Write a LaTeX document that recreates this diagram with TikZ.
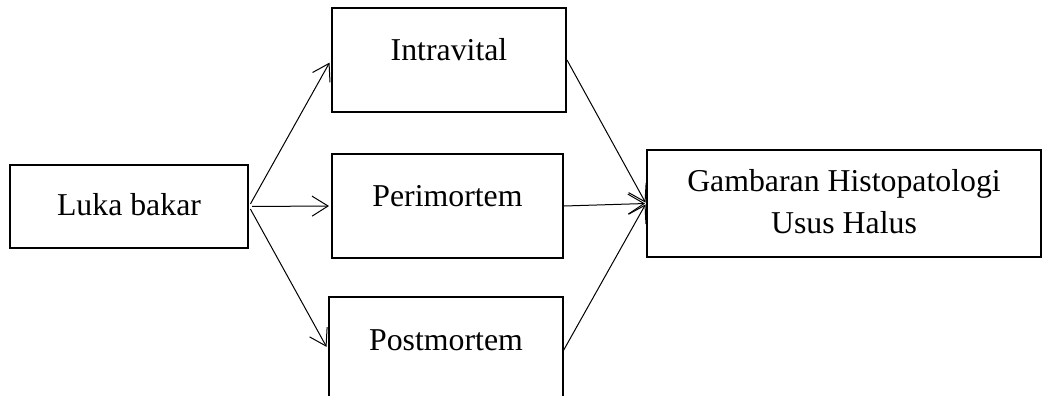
\documentclass[tikz,border=0pt]{standalone}
\usepackage{fontspec}
\setmainfont{Liberation Serif}
\usetikzlibrary{arrows.meta}
\begin{document}
\begin{tikzpicture}[x=0.5pt,y=-0.5pt,
  box/.style={draw=black,line width=1pt,rectangle,inner sep=0pt,anchor=base,
    font=\fontsize{15.9}{21}\selectfont},
  arr/.style={draw=black,line width=0.5pt,
    -{Straight Barb[length=8pt,width=10pt,line width=0.5pt]}},
  lbl/.style={inner sep=0pt,align=center,font=\fontsize{15.9}{21}\selectfont}]
\clip (0,0) rectangle (1044,396);
\fill[white] (0,0) rectangle (1044,396);
\node[box,minimum width=119pt,text height=25pt,text depth=16.5pt] (luka) at (129,215) {Luka bakar};
\node[box,minimum width=117pt,text height=26.5pt,text depth=25.5pt] (intra) at (449,61) {Intravital};
\node[box,minimum width=115.5pt,text height=26pt,text depth=26pt] (peri) at (447.5,206) {Perimortem};
\node[box,minimum width=117pt,text height=26.5pt,text depth=26pt] (post) at (446,350) {Postmortem};
\node[box,anchor=center,minimum width=197pt,minimum height=53.5pt] (gamb) at (844,203.5) {};
\node[lbl,anchor=base] (gambtext) at (844,191) {Gambaran Histopatologi};
\node[lbl,anchor=base] (gambtext2) at (844,233) {Usus Halus};
\draw[arr,shorten <=1.5pt,shorten >=1.5pt] (luka.east) -- (intra.west);
\draw[arr,shorten <=1.5pt,shorten >=1pt] (luka.east) -- (peri.west);
\draw[arr,shorten <=1.5pt,shorten >=1.5pt] (luka.east) -- (post.west);
\draw[arr,shorten >=0.5pt] (intra.east) -- (gamb.west);
\draw[arr,shorten >=0.5pt] (peri.east) -- (gamb.west);
\draw[arr,shorten >=0.5pt,shorten <=-1pt] (post.east) -- (gamb.west);
\end{tikzpicture}
\end{document}
